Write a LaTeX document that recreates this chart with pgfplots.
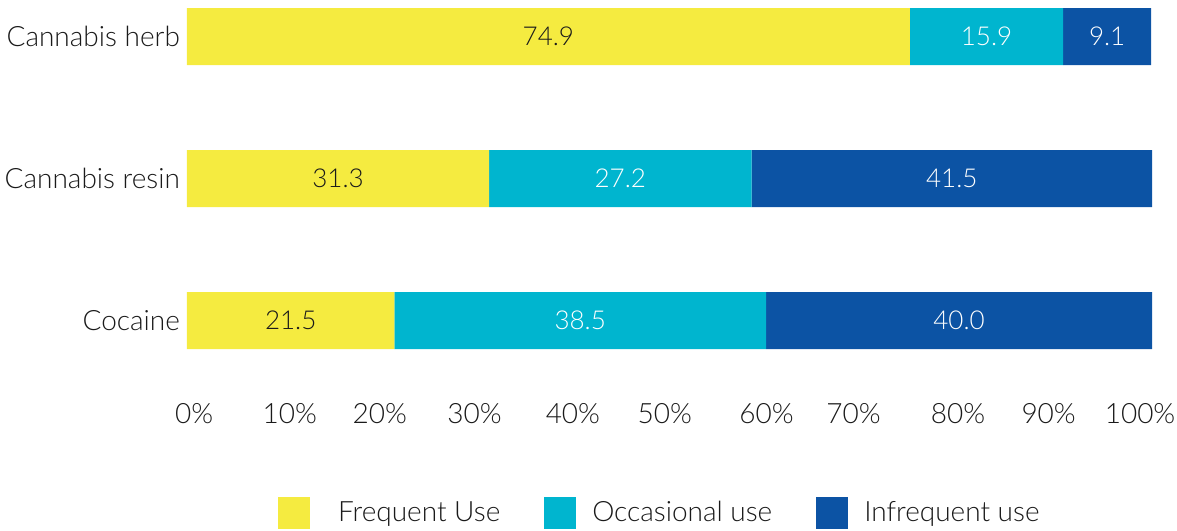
\documentclass[border=0pt]{standalone}
\usepackage{fontspec}
\setmainfont{Lato}[UprightFont={* Light}]
\usepackage{pgfplots}
\usepackage{pgfplotstable}
\pgfplotsset{compat=1.18}
\definecolor{cfreq}{HTML}{F5EB40}
\definecolor{cocc}{HTML}{00B5CF}
\definecolor{cinf}{HTML}{0C53A4}
\definecolor{ctxt}{HTML}{1A1A1A}
\pgfplotstableread{
y F O I
0 21.5 38.5 40.0
1 31.3 27.2 41.5
2 74.9 15.9 9.1
}\data
\begin{document}
\begin{tikzpicture}
\begin{axis}[name=ax,
  scale only axis, width=482.5pt, height=177.5pt,
  xbar stacked, bar width=28.5pt,
  xmin=0, xmax=100, ymin=-0.25, ymax=2.25,
  axis line style={draw=none}, major tick length=0pt,
  xtick={0.73,10.65,19.97,29.79,39.99,49.5,60.05,69.08,79.9,89.29,98.76},
  xticklabels={0\%,10\%,20\%,30\%,40\%,50\%,60\%,70\%,80\%,90\%,100\%},
  xticklabel style={anchor=center, yshift=-29pt, font=\fontsize{14}{16}\selectfont, text=ctxt},
  ytick={0,1,2},
  yticklabels={Cocaine,Cannabis resin,Cannabis herb},
  yticklabel style={font=\fontsize{14}{17}\selectfont, text=ctxt},
  legend columns=3,
  legend style={draw=none, at={(0.491,-0.442)}, anchor=center,
    font=\fontsize{14}{16}\selectfont, text=ctxt,
    /tikz/every odd column/.append style={column sep=6pt},
    /tikz/every even column/.append style={column sep=20pt}},
]
\addplot[fill=cfreq, draw=none, legend image code/.code={\fill[cfreq] (0pt,-8pt) rectangle (16pt,8pt);}] table[x=F, y=y] {\data};
\addplot[fill=cocc, draw=none, legend image code/.code={\fill[cocc] (0pt,-8pt) rectangle (16pt,8pt);}] table[x=O, y=y] {\data};
\addplot[fill=cinf, draw=none, legend image code/.code={\fill[cinf] (0pt,-8pt) rectangle (16pt,8pt);}] table[x=I, y=y] {\data};
\legend{\hspace{6pt}Frequent Use, Occasional use, Infrequent use}
\end{axis}
\begin{axis}[
  scale only axis, width=482.5pt, height=177.5pt,
  xmin=0, xmax=100, ymin=-0.25, ymax=2.25,
  hide axis,
  nodes near coords, point meta=explicit symbolic,
  nodes near coords style={anchor=center, font=\fontsize{13}{15}\selectfont},
]
\addplot[only marks, mark=none, nodes near coords style={text=ctxt}] table[x expr=\thisrow{F}/2, y=y, meta=F] {\data};
\addplot[only marks, mark=none, nodes near coords style={text=white}] table[x expr=\thisrow{F}+\thisrow{O}/2, y=y, meta=O] {\data};
\addplot[only marks, mark=none, nodes near coords style={text=white}] table[x expr=\thisrow{F}+\thisrow{O}+\thisrow{I}/2, y=y, meta=I] {\data};
\end{axis}
\pgfresetboundingbox
\path[use as bounding box] ([xshift=-93.5pt,yshift=-87pt]ax.south west) rectangle ([xshift=12.5pt,yshift=0.5pt]ax.north east);
\end{tikzpicture}
\end{document}
